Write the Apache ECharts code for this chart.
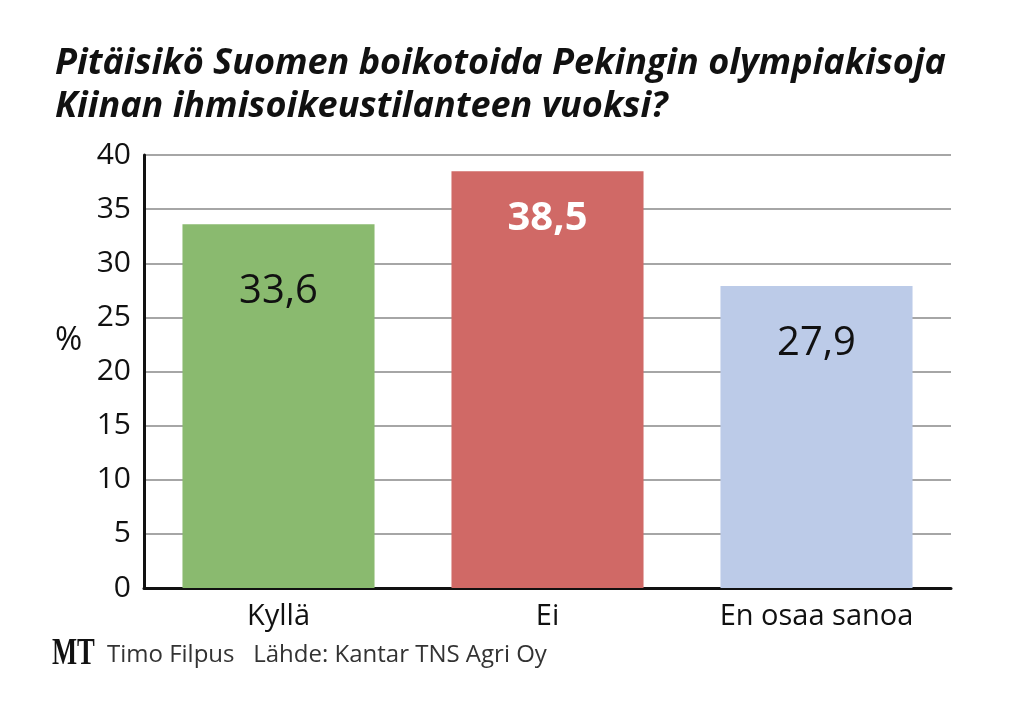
<!DOCTYPE html>
<html>
<head>
<meta charset="utf-8">
<script src="https://cdn.jsdelivr.net/npm/echarts@6/dist/echarts.min.js"></script>
<style>
html,body{margin:0;padding:0;background:#fff;}
#chart{width:1019px;height:702px;}
</style>
</head>
<body>
<div id="chart"></div>
<script>
const categories = ['Kyllä', 'Ei', 'En osaa sanoa'];
const values = [33.6, 38.5, 27.9];
const barColors = ['#8aba6f', '#d06966', '#bccbe8'];
const labelColors = ['#111111', '#ffffff', '#111111'];
const labelWeights = ['normal', 'bold', 'normal'];
const labelDistances = [47, 27, 38];
const yTicks = [0, 5, 10, 15, 20, 25, 30, 35, 40];
const titleText = 'Pitäisikö Suomen boikotoida Pekingin olympiakisoja\nKiinan ihmisoikeustilanteen vuoksi?';
const footerText = 'Timo Filpus   Lähde: Kantar TNS Agri Oy';
const unitText = '%';

const FONT = '"Open Sans", "DejaVu Sans", sans-serif';
const chart = echarts.init(document.getElementById('chart'));

const data = values.map((v, i) => ({
  value: v,
  itemStyle: { color: barColors[i] },
  label: {
    color: labelColors[i],
    fontWeight: labelWeights[i],
    distance: labelDistances[i]
  }
}));

chart.setOption({
  backgroundColor: '#ffffff',
  animation: false,
  title: {
    text: titleText,
    left: 50,
    top: 37,
    textStyle: {
      fontFamily: FONT,
      fontStyle: 'italic',
      fontWeight: 'bold',
      fontSize: 36,
      lineHeight: 43,
      color: '#111111'
    }
  },
  graphic: [
    {
      type: 'text',
      left: 52,
      top: 635,
      scaleX: 0.7,
      style: {
        text: 'MT',
        fontFamily: '"Liberation Serif", "DejaVu Serif", serif',
        fontWeight: 'bold',
        fontSize: 38,
        fill: '#111111'
      }
    },
    {
      type: 'text',
      left: 107,
      top: 643,
      style: {
        text: footerText,
        fontFamily: FONT,
        fontSize: 24,
        fill: '#333333'
      }
    },
    {
      type: 'text',
      left: 55,
      top: 324,
      style: {
        text: unitText,
        fontFamily: FONT,
        fontSize: 33,
        fill: '#111111'
      }
    }
  ],
  grid: {
    left: 144,
    right: 68,
    top: 155,
    bottom: 114,
    containLabel: false
  },
  xAxis: {
    type: 'category',
    data: categories,
    axisLine: { show: true, lineStyle: { color: '#111111', width: 3 } },
    axisTick: { show: false },
    axisLabel: {
      fontFamily: FONT,
      fontSize: 29,
      color: '#111111',
      margin: 14
    }
  },
  yAxis: {
    type: 'value',
    min: yTicks[0],
    max: yTicks[yTicks.length - 1],
    interval: 5,
    axisLine: { show: true, lineStyle: { color: '#111111', width: 3 } },
    axisTick: { show: false },
    axisLabel: {
      fontFamily: FONT,
      fontSize: 30,
      color: '#111111',
      margin: 13
    },
    splitLine: { show: true, lineStyle: { color: '#a6a6a6', width: 2 } }
  },
  series: [{
    type: 'bar',
    data: data,
    barWidth: '71.4%',
    label: {
      show: true,
      position: 'insideTop',
      fontFamily: FONT,
      fontSize: 40,
      formatter: p => String(p.value).replace('.', ',')
    }
  }]
});
</script>
</body>
</html>
